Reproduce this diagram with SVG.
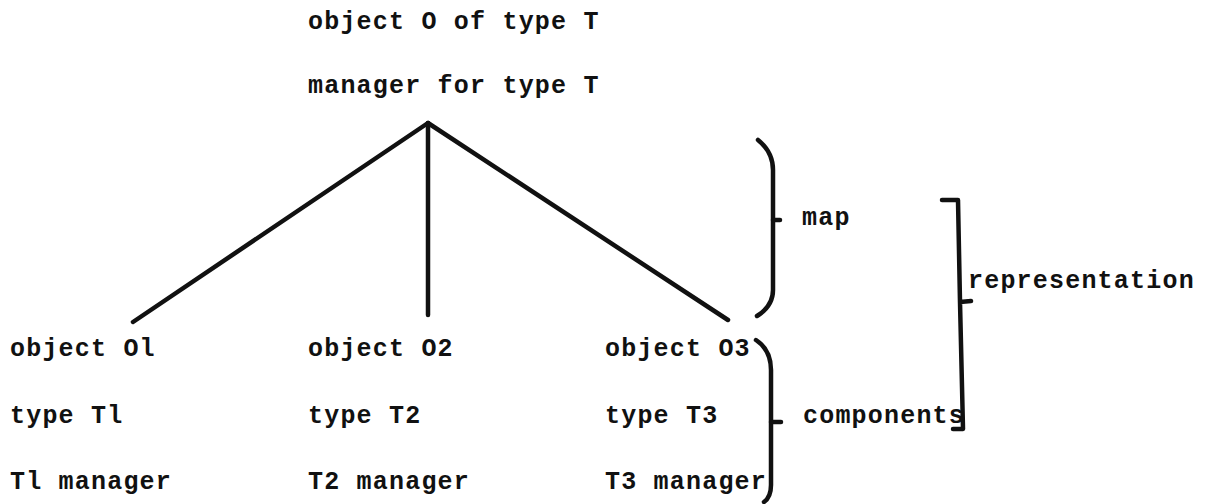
<svg xmlns="http://www.w3.org/2000/svg" width="1206" height="504" viewBox="0 0 1206 504">
<style>
text{font-family:"Liberation Mono","DejaVu Sans Mono",monospace;font-size:25px;font-weight:bold;letter-spacing:1.2px;fill:#111}
.ln{stroke:#111;stroke-width:4.5;fill:none;stroke-linecap:round;stroke-linejoin:round}
</style>
<rect width="1206" height="504" fill="#fff"/>
<g id="root">
<text x="308" y="29">object O of type T</text>
<text x="308" y="93">manager for type T</text>
</g>
<g id="o1">
<text x="10" y="356">object Ol</text>
<text x="10" y="423">type Tl</text>
<text x="10" y="489">Tl manager</text>
</g>
<g id="o2">
<text x="308" y="356">object O2</text>
<text x="308" y="423">type T2</text>
<text x="308" y="489">T2 manager</text>
</g>
<g id="o3">
<text x="605" y="356">object O3</text>
<text x="605" y="423">type T3</text>
<text x="605" y="489">T3 manager</text>
</g>
<g id="connectors" class="ln">
<path d="M428,123 L133,322"/>
<path d="M428,123 L428,315"/>
<path d="M428,123 L728,320"/>
</g>
<g id="map">
<path class="ln" d="M758,140 Q773,152 773,170 L773,290 Q773,306 757,316"/>
<path class="ln" d="M773,220 L780,220"/>
<text x="802" y="225">map</text>
</g>
<g id="components">
<path class="ln" d="M756,340 Q771,350 771,370 L771,485 Q771,497 764,502"/>
<path class="ln" d="M771,422 L781,422"/>
<text x="803" y="423">components</text>
</g>
<g id="representation">
<path class="ln" d="M942,200 L958,200 L960,302 M960,302 L971,301 M960,302 L963,429 L953,429"/>
<text x="968" y="288">representation</text>
</g>
</svg>
